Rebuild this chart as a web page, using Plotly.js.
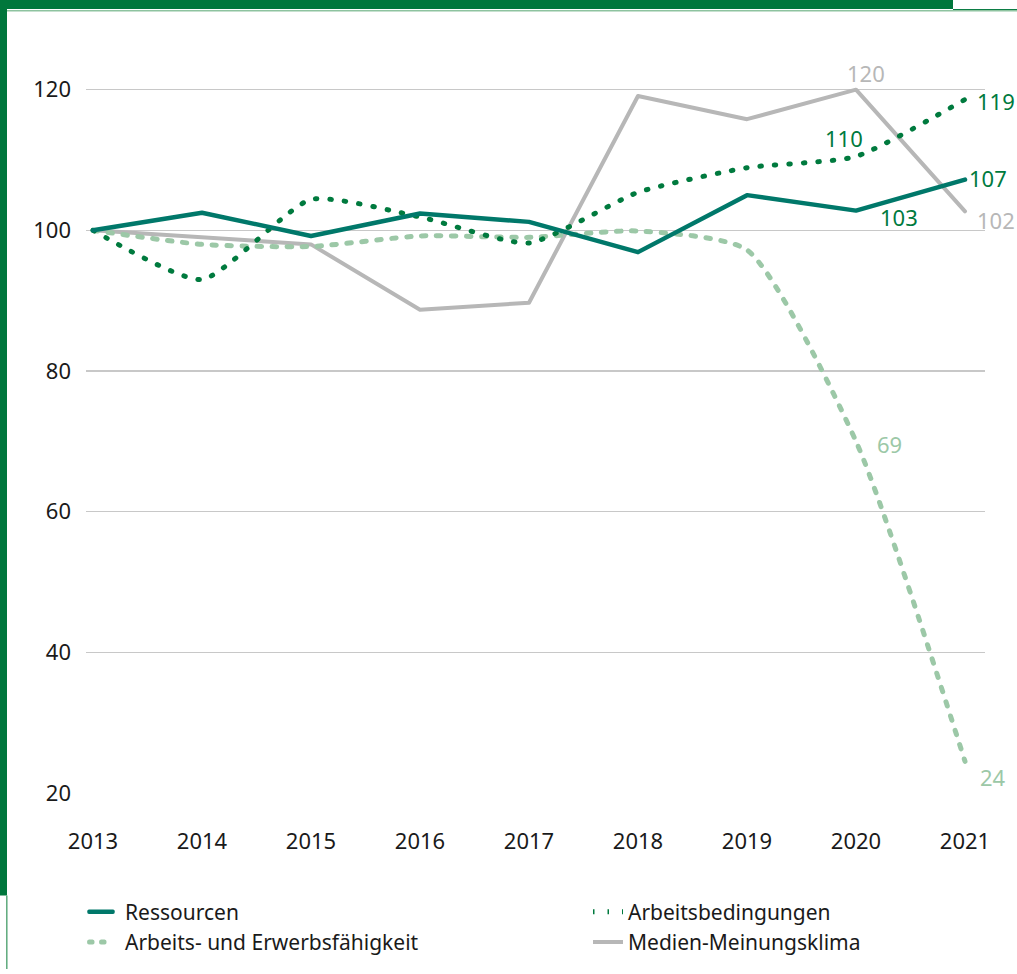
<!DOCTYPE html>
<html>
<head>
<meta charset="utf-8">
<script src="https://cdn.plot.ly/plotly-3.0.1.min.js"></script>
<style>
  html, body { margin: 0; padding: 0; background: #fff; }
  #chart { width: 1017px; height: 974px; }
  .scatterlayer path.js-line, .legend path.js-line { stroke-linecap: round; stroke-linejoin: round; }
  .legend .legendlines path.js-line { transform: scaleX(0.8); }
</style>
</head>
<body>
<div id="chart"></div>
<script>
// ---- data ----
const years = [2013, 2014, 2015, 2016, 2017, 2018, 2019, 2020, 2021];
const ressourcen = [100, 102.5, 99.2, 102.4, 101.2, 96.9, 105.0, 102.8, 107.2];
const arbeitsbedingungen = [100, 93.0, 104.4, 101.9, 98.2, 105.4, 108.9, 110.5, 118.6];
const erwerbsfaehigkeit = [100, 98.0, 97.7, 99.2, 99.0, 99.9, 97.2, 70.0, 24.5];
const medien = [100, 99.0, 98.0, 88.7, 89.7, 119.1, 115.8, 120.0, 102.7];
const seriesNames = ["Ressourcen", "Arbeitsbedingungen", "Arbeits- und Erwerbsfähigkeit", "Medien-Meinungsklima"];
const yTicks = [20, 40, 60, 80, 100, 120];

// value labels: [yearIndex, text]
const labelsRessourcen = [[7, "103"], [8, "107"]];
const labelsArbeitsbed = [[7, "110"], [8, "119"]];
const labelsErwerb = [[7, "69"], [8, "24"]];
const labelsMedien = [[7, "120"], [8, "102"]];

// ---- style ----
const FONT = "Noto Sans, Open Sans, sans-serif";
const C_RES = "#00786a";
const C_ARB = "#007a3e";
const C_ERW = "#9cc8a7";
const C_MED = "#b7b7b7";
const FRAME = "#00773c";

const W = 1017, H = 974;
const M = { l: 86, r: 32, t: 20, b: 177 };
const PW = W - M.l - M.r, PH = H - M.t - M.b;
const px2x = p => (p - M.l) / PW;
const py2y = p => (H - M.b - p) / PH;

const traces = [
  { x: years, y: ressourcen, name: seriesNames[0], mode: "lines", legend: "legend", legendrank: 1,
    line: { color: C_RES, width: 4.5 } },
  { x: years, y: arbeitsbedingungen, name: seriesNames[1], mode: "lines", legend: "legend2", legendrank: 1,
    line: { color: C_ARB, width: 5, dash: "1.5px,13px", shape: "spline", smoothing: 0.55 } },
  { x: years, y: erwerbsfaehigkeit, name: seriesNames[2], mode: "lines", legend: "legend", legendrank: 2,
    line: { color: C_ERW, width: 5, dash: "4.5px,10.5px", shape: "spline", smoothing: 0.6 } },
  { x: years, y: medien, name: seriesNames[3], mode: "lines", legend: "legend2", legendrank: 2,
    line: { color: C_MED, width: 4 } }
];
const ordered = [traces[3], traces[2], traces[1], traces[0]];
ordered.forEach(t => t.hoverinfo = "skip");

const ann = [];
function addLabels(list, series, color, shifts) {
  list.forEach((l, k) => {
    ann.push({ x: years[l[0]], y: series[l[0]], text: l[1], showarrow: false,
      xshift: shifts[k][0], yshift: shifts[k][1],
      font: { family: FONT, size: 22, color: color } });
  });
}
addLabels(labelsRessourcen, ressourcen, C_ARB, [[43, -6], [23, 2]]);
addLabels(labelsArbeitsbed, arbeitsbedingungen, C_ARB, [[-12, 18], [31, -2]]);
addLabels(labelsErwerb, erwerbsfaehigkeit, C_ERW, [[33, -3], [28, -16]]);
addLabels(labelsMedien, medien, C_MED, [[10, 17], [31, -9]]);

const shapes = [
  { type: "rect", xref: "paper", yref: "paper", x0: px2x(0), x1: px2x(953), y0: py2y(0), y1: py2y(9),
    fillcolor: FRAME, line: { width: 0 } },
  { type: "line", xref: "paper", yref: "paper", x0: px2x(953), x1: px2x(1017), y0: py2y(9.5), y1: py2y(9.5),
    line: { color: FRAME, width: 1 } },
  { type: "line", xref: "paper", yref: "paper", x0: px2x(7), x1: px2x(1017), y0: py2y(10.7), y1: py2y(10.7),
    line: { color: "#8ec3a0", width: 1.4 } },
  { type: "rect", xref: "paper", yref: "paper", x0: px2x(0), x1: px2x(7), y0: py2y(0), y1: py2y(900),
    fillcolor: FRAME, line: { width: 0 } },
  { type: "line", xref: "paper", yref: "paper", x0: px2x(6.8), x1: px2x(6.8), y0: py2y(900), y1: py2y(974),
    line: { color: "#5da97b", width: 1.5 } }
];

const legendFont = { family: FONT, size: 21, color: "#1a1a1a" };
const layout = {
  width: W, height: H,
  margin: M,
  paper_bgcolor: "#fff", plot_bgcolor: "#fff",
  font: { family: FONT, size: 21, color: "#1a1a1a" },
  showlegend: true,
  xaxis: {
    range: [2013 - 7 / 109, 2021 + 20 / 109],
    tickvals: years, ticktext: years.map(String),
    showgrid: false, zeroline: false, showline: false, ticks: "",
    ticklabelstandoff: 33,
    tickfont: { family: FONT, size: 22, color: "#1a1a1a" }
  },
  yaxis: {
    range: [20, 20 + PH / 7.07],
    tickvals: yTicks,
    showgrid: true, gridcolor: "#c8c8c8", gridwidth: 1.5,
    zeroline: false, showline: false, ticks: "",
    ticklabelstandoff: 14,
    tickfont: { family: FONT, size: 22, color: "#1a1a1a" }
  },
  legend: {
    x: px2x(85), xanchor: "left", y: py2y(896), yanchor: "top",
    orientation: "v", bgcolor: "rgba(0,0,0,0)", borderwidth: 0,
    font: legendFont, itemwidth: 30, tracegroupgap: 0
  },
  legend2: {
    x: px2x(588), xanchor: "left", y: py2y(896), yanchor: "top",
    orientation: "v", bgcolor: "rgba(0,0,0,0)", borderwidth: 0,
    font: legendFont, itemwidth: 30, tracegroupgap: 0
  },
  annotations: ann,
  shapes: shapes
};

Plotly.newPlot("chart", ordered, layout, { staticPlot: true, displayModeBar: false });
</script>
</body>
</html>
